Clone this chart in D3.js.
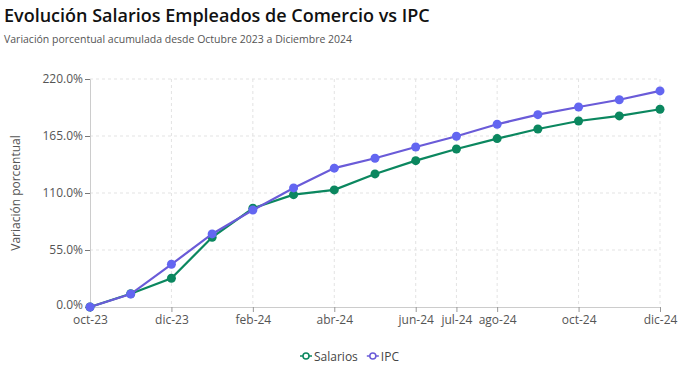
<!DOCTYPE html>
<html><head><meta charset="utf-8">
<script src="https://cdn.jsdelivr.net/npm/d3@7/dist/d3.min.js"></script>
<style>
body{margin:0;background:#fff;font-family:"Open Sans","Noto Sans",sans-serif;}
</style></head><body>
<svg id="c" width="690" height="380"></svg>
<script>
const months = ["oct-23","nov-23","dic-23","ene-24","feb-24","mar-24","abr-24","may-24","jun-24","jul-24","ago-24","sep-24","oct-24","nov-24","dic-24"];
const salarios = [0, 12.8, 27.7, 67.3, 95.3, 108.4, 113, 128.4, 141.2, 152.5, 162.5, 171.8, 179.5, 184.4, 190.8];
const ipc = [0, 12.5, 41.2, 70.5, 93.6, 114.9, 134, 143.5, 154.4, 164.8, 176.3, 185.6, 193, 200, 208.5];
const xTickLabels = ["oct-23","dic-23","feb-24","abr-24","jun-24","jul-24","ago-24","oct-24","dic-24"];
const yTicks = [0, 55, 110, 165, 220];
const seriesNames = ["Salarios","IPC"];

const svg = d3.select("#c");
const m = {l:90, r:30, t:79, b:73};
const W = 690, H = 380;
const x = d3.scalePoint().domain(months).range([m.l, W - m.r]);
const y = d3.scaleLinear().domain([0,220]).range([H - m.b, m.t]);

svg.append("text").attr("x",4).attr("y",22).attr("font-size",18).attr("font-weight",600)
  .attr("fill","#111").text("Evolución Salarios Empleados de Comercio vs IPC");
svg.append("text").attr("x",4).attr("y",43).attr("font-size",10.5).attr("fill","#555")
  .text("Variación porcentual acumulada desde Octubre 2023 a Diciembre 2024");

// grid
const g = svg.append("g");
g.selectAll(".hg").data(yTicks.slice(1)).join("line")
  .attr("x1",m.l).attr("x2",W-m.r).attr("y1",d=>y(d)).attr("y2",d=>y(d))
  .attr("stroke","#e3e3e3").attr("stroke-dasharray","3,3");
g.selectAll(".vg").data(xTickLabels.slice(1)).join("line")
  .attr("x1",d=>x(d)).attr("x2",d=>x(d)).attr("y1",m.t).attr("y2",H-m.b)
  .attr("stroke","#e3e3e3").attr("stroke-dasharray","3,3");

// axes
const ya = svg.append("g").attr("transform",`translate(${m.l},0)`)
  .call(d3.axisLeft(y).tickValues(yTicks).tickFormat(d=>d.toFixed(1)+"%").tickSize(5).tickPadding(2));
ya.select(".domain").attr("stroke","#ccc");
ya.selectAll(".tick line").attr("stroke","#777");
ya.selectAll("text").attr("font-size",12).attr("fill","#555").attr("font-family","Open Sans, sans-serif");
ya.selectAll(".tick").filter(d=>d===0).select("text").attr("dy","0.12em");

const xa = svg.append("g").attr("transform",`translate(0,${H-m.b})`)
  .call(d3.axisBottom(x).tickValues(xTickLabels).tickSize(5).tickPadding(3));
xa.select(".domain").attr("stroke","#ccc");
xa.selectAll(".tick line").attr("stroke","#999");
xa.selectAll("text").attr("font-size",12).attr("fill","#555").attr("font-family","Open Sans, sans-serif");

svg.append("text").attr("transform",`translate(20,${(m.t+H-m.b)/2}) rotate(-90)`)
  .attr("text-anchor","middle").attr("font-size",12).attr("fill","#555").text("Variación porcentual");

const series = [
  {name:seriesNames[0], vals:salarios, line:"#0b875f", pt:"#0b875f"},
  {name:seriesNames[1], vals:ipc, line:"#6a5bd8", pt:"#6366f1"}
];
const line = d3.line().x((d,i)=>x(months[i])).y(d=>y(d));
series.forEach(s=>{
  svg.append("path").attr("d",line(s.vals)).attr("fill","none").attr("stroke",s.line).attr("stroke-width",2.2);
  svg.selectAll(null).data(s.vals).join("circle")
    .attr("cx",(d,i)=>x(months[i])).attr("cy",d=>y(d)).attr("r",4.5).attr("fill",s.pt);
});

// legend
const lg = svg.append("g").attr("transform","translate(300,356)");
let lx = 0;
series.forEach(s=>{
  const it = lg.append("g").attr("transform",`translate(${lx},0)`);
  it.append("line").attr("x1",0).attr("x2",12).attr("y1",0).attr("y2",0).attr("stroke",s.line).attr("stroke-width",1.5);
  it.append("circle").attr("cx",6).attr("cy",0).attr("r",3).attr("fill","#fff").attr("stroke",s.line).attr("stroke-width",1.5);
  const t = it.append("text").attr("x",14).attr("y",4.5).attr("font-size",12).attr("fill","#444").text(s.name);
  lx += 14 + t.node().getComputedTextLength() + 9;
});
</script></body></html>
